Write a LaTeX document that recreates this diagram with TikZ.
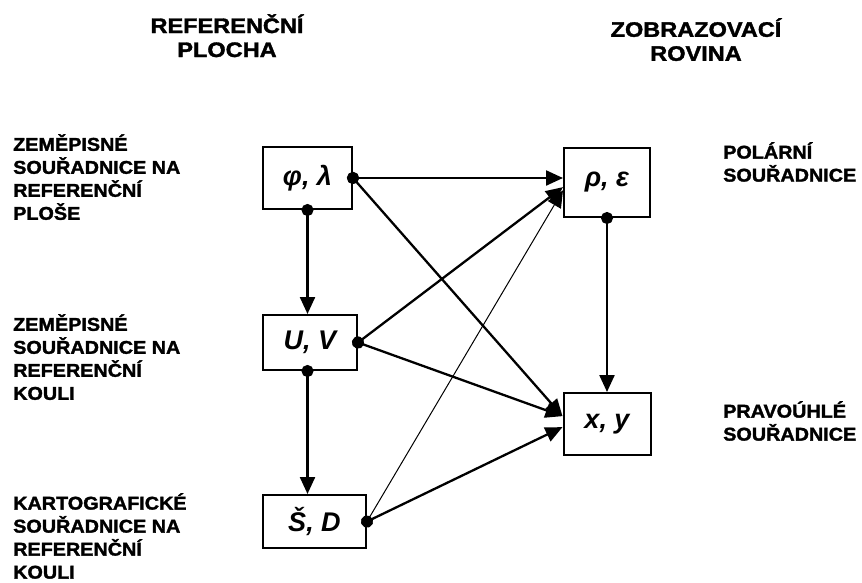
\documentclass[tikz,border=0pt]{standalone}
\usepackage{fontspec}
\setmainfont[BoldFeatures={FakeBold=1.6}]{Liberation Sans}
\usetikzlibrary{arrows.meta,positioning}
\tikzset{
box/.style={draw, line width=2pt, inner sep=0pt, font=\fontsize{27}{30}\selectfont\bfseries\itshape},
lbl/.style={align=left, anchor=north west, inner sep=0pt, xscale=1.07, font=\fontsize{18.5}{23}\selectfont\bfseries},
head/.style={align=center, anchor=north, inner sep=0pt, xscale=1.12, font=\fontsize{21}{24}\selectfont\bfseries},
conn/.style={line width=2.3pt, {Circle[length=12pt]}-{Triangle[length=17pt,width=15pt]}, shorten <=-6pt},
thinconn/.style={conn, line width=1pt}
}

\begin{document}
\begin{tikzpicture}[x=1pt, y=-1pt]
\useasboundingbox (0,0) rectangle (862,582);

\node[head] (h1) at (227,14) {REFERENČNÍ\\PLOCHA};
\node[head] (h2) at (696,18) {ZOBRAZOVACÍ\\ROVINA};

\node[box, minimum width=89pt, minimum height=62pt] (fl) at (307.5,178) {φ, λ};
\node[box, minimum width=94pt, minimum height=55pt, below=104pt of fl.south west, anchor=north west] (uv) {U, V};
\node[box, minimum width=103pt, minimum height=53pt, below=123pt of uv.south west, anchor=north west] (sd) {Š, D};
\node[box, minimum width=86pt, minimum height=69pt, right=210pt of fl, yshift=-4.5pt] (re) {ρ, ε};
\node[box, minimum width=87pt, minimum height=62pt, below=174pt of re] (xy) {x, y};

\node[lbl] (l1) at (13,134) {ZEMĚPISNÉ\\SOUŘADNICE NA\\REFERENČNÍ\\PLOŠE};
\node[lbl] (l2) at (13,314) {ZEMĚPISNÉ\\SOUŘADNICE NA\\REFERENČNÍ\\KOULI};
\node[lbl] (l3) at (13,493) {KARTOGRAFICKÉ\\SOUŘADNICE NA\\REFERENČNÍ\\KOULI};
\node[lbl] (r1) at (723,142) {POLÁRNÍ\\SOUŘADNICE};
\node[lbl] (r2) at (723,401) {PRAVOÚHLÉ\\SOUŘADNICE};

% spojnice
\draw[conn] (fl.east) -- (fl.east -| re.west);
\draw[conn] (fl.east) -- (xy.170);
\draw[conn] (fl.south) -- (fl.south |- uv.north);
\draw[conn] (uv.east) -- (re.186);
\draw[conn] (uv.east) -- (xy.170);
\draw[conn] (uv.south -| fl.south) -- (sd.north -| fl.south);
\draw[thinconn] (sd.east) -- (re.190);
\draw[conn] (sd.east) -- (xy.184);
\draw[conn] (re.south) -- (xy.north);
\end{tikzpicture}
\end{document}
